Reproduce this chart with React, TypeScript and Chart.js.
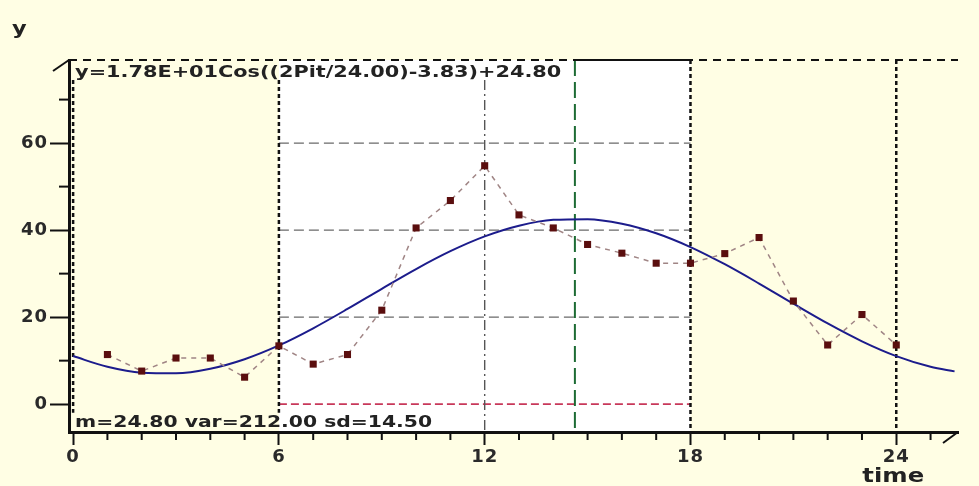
import React, { useEffect, useRef } from 'react';
import { Chart, registerables } from 'chart.js';

Chart.register(...registerables);

// observed values (time, y)
const obsTime = [1, 2, 3, 4, 5, 6, 7, 8, 9, 10, 11, 12, 13, 14, 15, 16, 17, 18, 19, 20, 21, 22, 23, 24];
const obsValue = [11.4, 7.6, 10.6, 10.6, 6.2, 13.4, 9.2, 11.4, 21.6, 40.5, 46.8, 54.8, 43.5, 40.5, 36.7, 34.7, 32.4, 32.4, 34.6, 38.3, 23.7, 13.6, 20.6, 13.6];

// fitted cosinor curve
const fitTime = [0, 1, 2, 3, 4, 5, 6, 7, 8, 9, 10, 11, 12, 13, 14, 15, 16, 17, 18, 19, 20, 21, 22, 23, 24, 25, 25.7];
const fitValue = [11.05, 8.59, 7.24, 7.08, 8.13, 10.32, 13.49, 17.44, 21.88, 26.52, 31.05, 35.15, 38.55, 41.0, 42.36, 42.52, 41.47, 39.28, 36.11, 32.16, 27.72, 23.08, 18.55, 14.45, 11.05, 8.59, 7.53];

// axes
const xTicks = [0, 1, 2, 3, 4, 5, 6, 7, 8, 9, 10, 11, 12, 13, 14, 15, 16, 17, 18, 19, 20, 21, 22, 23, 24, 25];
const xLabelTicks = [0, 6, 12, 18, 24];
const yTicks = [0, 10, 20, 30, 40, 50, 60, 70];
const yLabelTicks = [0, 20, 40, 60];

// reference marks
const windowStart = 6;
const windowEnd = 18;
const midTime = 12;
const dayEnd = 24;
const acrophase = 14.63;
const gridValues = [20, 40, 60];
const zeroValue = 0;

const formulaText = 'y=1.78E+01Cos((2Pit/24.00)-3.83)+24.80';
const statsText = 'm=24.80 var=212.00 sd=14.50';
const yTitle = 'y';
const xTitle = 'time';

const CREAM = '#FFFEE4';
const FONT_FAMILY = '"DejaVu Sans", Verdana, sans-serif';

function stretchText(ctx: CanvasRenderingContext2D, text: string, x: number, yBase: number, size: number, sx: number, align: 'left' | 'center' = 'left') {
  ctx.save();
  ctx.font = `bold ${size}px ${FONT_FAMILY}`;
  (ctx as any).letterSpacing = '0px';
  ctx.textBaseline = 'alphabetic';
  ctx.textAlign = 'left';
  ctx.fillStyle = '#222';
  const w = ctx.measureText(text).width * sx;
  const left = align === 'center' ? x - w / 2 : x;
  ctx.translate(left, yBase);
  ctx.scale(sx, 1);
  ctx.fillText(text, 0, 0);
  ctx.restore();
}

function vline(ctx: CanvasRenderingContext2D, x: number, y0: number, y1: number, color: string, width: number, dash: number[]) {
  ctx.save();
  ctx.strokeStyle = color;
  ctx.lineWidth = width;
  ctx.setLineDash(dash);
  ctx.beginPath();
  ctx.moveTo(x, y0);
  ctx.lineTo(x, y1);
  ctx.stroke();
  ctx.restore();
}

function hline(ctx: CanvasRenderingContext2D, y: number, x0: number, x1: number, color: string, width: number, dash: number[]) {
  ctx.save();
  ctx.strokeStyle = color;
  ctx.lineWidth = width;
  ctx.setLineDash(dash);
  ctx.beginPath();
  ctx.moveTo(x0, y);
  ctx.lineTo(x1, y);
  ctx.stroke();
  ctx.restore();
}

const decor = {
  id: 'decor',
  beforeDraw(chart: any) {
    const { ctx, chartArea: a, scales } = chart;
    const x = scales.x;
    ctx.save();
    ctx.fillStyle = CREAM;
    ctx.fillRect(0, 0, chart.width, chart.height);
    ctx.fillStyle = '#FFFFFF';
    const xs = x.getPixelForValue(windowStart);
    const xe = x.getPixelForValue(windowEnd);
    ctx.fillRect(xs, a.top, xe - xs, a.bottom - a.top);
    ctx.restore();
    (ctx as any).letterSpacing = '1px';
  },
  beforeDatasetsDraw(chart: any) {
    const { ctx, chartArea: a, scales } = chart;
    const x = scales.x;
    const y = scales.y;
    const xs = x.getPixelForValue(windowStart);
    const xe = x.getPixelForValue(windowEnd);
    const textTop = y.getPixelForValue(74.5);
    const textBottom = y.getPixelForValue(-2);
    // grid inside window
    gridValues.forEach((v) => hline(ctx, y.getPixelForValue(v), xs, xe, '#6a6a6a', 1.3, [10, 5]));
    hline(ctx, y.getPixelForValue(zeroValue), xs, xe, '#c8385a', 1.6, [8, 4]);
    // verticals
    vline(ctx, x.getPixelForValue(0), textTop, textBottom, '#111', 2.5, [4, 3]);
    vline(ctx, xs, textTop, textBottom, '#111', 2.5, [4, 3]);
    vline(ctx, x.getPixelForValue(midTime), textTop, a.bottom, '#555', 1.4, [10, 4, 2, 4]);
    vline(ctx, xe, a.top, a.bottom, '#111', 2.5, [4, 3]);
    vline(ctx, x.getPixelForValue(dayEnd), a.top, a.bottom, '#111', 2.5, [4, 3]);
    vline(ctx, x.getPixelForValue(acrophase), a.top, a.bottom, '#1d6b34', 2, [16, 6]);
    // top frame line
    hline(ctx, a.top, a.left, a.right, '#111', 2, [8, 6]);
    hline(ctx, a.top, x.getPixelForValue(acrophase), xe, '#111', 2, []);
  },
  afterDraw(chart: any) {
    const { ctx, chartArea: a, scales } = chart;
    const x = scales.x;
    const y = scales.y;
    ctx.save();
    ctx.strokeStyle = '#111';
    ctx.lineWidth = 2;
    ctx.setLineDash([]);
    yTicks.filter((v) => !yLabelTicks.includes(v)).forEach((v) => {
      const py = y.getPixelForValue(v);
      ctx.beginPath();
      ctx.moveTo(a.left - 10, py);
      ctx.lineTo(a.left, py);
      ctx.stroke();
    });
    xTicks.filter((v) => !xLabelTicks.includes(v)).forEach((v) => {
      const px = x.getPixelForValue(v);
      ctx.beginPath();
      ctx.moveTo(px, a.bottom);
      ctx.lineTo(px, a.bottom + 8);
      ctx.stroke();
    });
    // axis end slashes
    ctx.beginPath();
    ctx.moveTo(a.left - 16, a.top + 11);
    ctx.lineTo(a.left, a.top);
    ctx.stroke();
    ctx.beginPath();
    ctx.moveTo(a.right - 15, a.bottom + 11);
    ctx.lineTo(a.right, a.bottom);
    ctx.stroke();
    ctx.restore();

    const x0 = x.getPixelForValue(0);
    stretchText(ctx, formulaText, x0 + 2, a.top + 17, 16, 1.3);
    stretchText(ctx, statsText, x0 + 2, a.bottom - 5, 16, 1.27);
    stretchText(ctx, yTitle, 12, 34, 18, 1.25);
    stretchText(ctx, xTitle, x.getPixelForValue(dayEnd) - 3, chart.height - 4, 19, 1.28, 'center');
  },
};

export default function App() {
  const canvasRef = useRef<HTMLCanvasElement | null>(null);

  useEffect(() => {
    document.body.style.margin = '0';
    const canvas = canvasRef.current;
    if (!canvas) return;
    const tickFont = { family: FONT_FAMILY, size: 18, weight: 'bold' as const };
    const chart = new Chart(canvas, {
      type: 'line',
      data: {
        datasets: [
          {
            label: 'observed',
            data: obsTime.map((t, i) => ({ x: t, y: obsValue[i] })),
            borderColor: '#a08585',
            borderWidth: 1.5,
            borderDash: [5, 5],
            pointStyle: 'rect',
            pointRadius: 5,
            pointBackgroundColor: '#5a0e0e',
            pointBorderColor: '#5a0e0e',
            pointBorderWidth: 0,
            tension: 0,
            order: 0,
          },
          {
            label: 'fit',
            data: fitTime.map((t, i) => ({ x: t, y: fitValue[i] })),
            borderColor: '#1c1c8c',
            borderWidth: 2,
            pointRadius: 0,
            cubicInterpolationMode: 'monotone',
            order: 1,
          },
        ],
      },
      options: {
        animation: false,
        responsive: false,
        devicePixelRatio: 1,
        layout: { padding: { left: 0, right: 21, top: 60, bottom: 0 } },
        plugins: { legend: { display: false }, tooltip: { enabled: false } },
        scales: {
          x: {
            type: 'linear',
            min: -0.12,
            max: 25.8,
            afterBuildTicks: (s: any) => {
              s.ticks = xTicks.map((v) => ({ value: v }));
            },
            afterFit: (s: any) => {
              s.height = 54;
            },
            border: { display: true, color: '#111', width: 3 },
            grid: {
              drawOnChartArea: false,
              drawTicks: true,
              tickLength: 13,
              tickWidth: 2,
              tickColor: (c: any) => (c.tick && xLabelTicks.includes(c.tick.value) ? '#111' : 'rgba(0,0,0,0)'),
            },
            ticks: {
              autoSkip: false,
              maxRotation: 0,
              padding: 2,
              color: '#2a2a2a',
              font: tickFont,
              callback: (v: any) => (xLabelTicks.includes(Number(v)) ? String(v) : ''),
            },
          },
          y: {
            type: 'linear',
            min: -6.4,
            max: 79.1,
            afterBuildTicks: (s: any) => {
              s.ticks = yTicks.map((v) => ({ value: v }));
            },
            afterFit: (s: any) => {
              s.width = 69;
            },
            border: { display: true, color: '#111', width: 3 },
            grid: {
              drawOnChartArea: false,
              drawTicks: true,
              tickLength: 19,
              tickWidth: 2,
              tickColor: (c: any) => (c.tick && yLabelTicks.includes(c.tick.value) ? '#111' : 'rgba(0,0,0,0)'),
            },
            ticks: {
              autoSkip: false,
              padding: 2,
              color: '#2a2a2a',
              font: tickFont,
              callback: (v: any) => (yLabelTicks.includes(Number(v)) ? String(v) : ''),
            },
          },
        },
      },
      plugins: [decor],
    } as any);
    return () => chart.destroy();
  }, []);

  return (
    <div style={{ position: 'fixed', left: 0, top: 0, width: 979, height: 486, background: CREAM }}>
      <canvas ref={canvasRef} width={979} height={486} style={{ display: 'block', width: 979, height: 486 }} />
    </div>
  );
}
